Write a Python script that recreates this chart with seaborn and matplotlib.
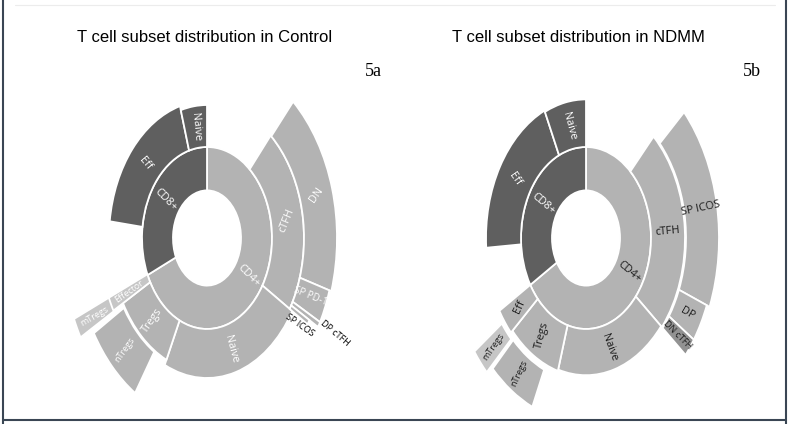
import numpy as np
import matplotlib.pyplot as plt
from matplotlib.lines import Line2D
import seaborn as sns

sns.set_theme(style="white")
plt.rcParams['font.family'] = ['Open Sans', 'DejaVu Sans']

# ---- data ----
# angular shares in degrees, clockwise from 12 o'clock; "" marks an empty gap
# radii are the inner/outer reach of each segment (hole = 34, first ring ends at 65)

# Control (5a)
ctl_r1_lab = ["CD4+", "CD8+"]
ctl_r1_deg = [246, 114]

ctl_r2_lab = ["", "cTFH", "Naive", "Tregs", "Effector", "", "Eff", "Naive"]
ctl_r2_deg = [41, 80.5, 83.5, 36, 5.5, 30.5, 67, 16]
ctl_r2_out = [0, 97, 100, 96, 108, 0, 98, 95]

ctl_r3_lab = ["", "DN", "SP PD-1", "DP cTFH", "SP ICOS", "", "nTregs", "", "mTregs", ""]
ctl_r3_deg = [41.5, 65.5, 11, 1.8, 1.7, 91.5, 26, 1.7, 5.8, 113.5]
ctl_r3_in = [0, 97, 97, 97, 97, 0, 97, 0, 107, 0]
ctl_r3_out = [0, 130, 128, 128, 118, 0, 132, 0, 145, 0]

# NDMM (5b)
ndm_r1_lab = ["CD4+", "CD8+"]
ndm_r1_deg = [239, 121]

ndm_r2_lab = ["", "cTFH", "Naive", "Tregs", "Eff", "", "Eff", "Naive"]
ndm_r2_deg = [43, 87, 66.5, 31.5, 11, 27, 69.5, 24.5]
ndm_r2_out = [0, 99, 98, 99, 101, 0, 100, 99]

ndm_r3_lab = ["", "SP ICOS", "DP", "DN cTFH", "", "nTregs", "", "mTregs", ""]
ndm_r3_deg = [47.5, 64.2, 12.3, 6, 74, 21, 1, 8, 126]
ndm_r3_in = [0, 100, 100, 100, 0, 103, 0, 104, 0]
ndm_r3_out = [0, 133, 130, 130, 0, 132, 0, 138, 0]

HOLE, RING1 = 34, 65

# ---- styles ----
DARK, LIGHT, PALE, MID = "#5f5f5f", "#b3b3b3", "#c6c6c6", "#929292"

ctl_fill = [[LIGHT, DARK],
            [None, LIGHT, LIGHT, LIGHT, PALE, None, DARK, DARK],
            [None, LIGHT, LIGHT, LIGHT, LIGHT, None, LIGHT, None, PALE, None]]
ctl_rot = [[-45, -45],
           [0, 68, -75, 55, 35, 0, -50, -85],
           [0, 55, -22, -40, -35, 0, 55, 0, 30, 0]]
# labels moved off the segment middle
ctl_text_at = {(2, 2): (112, 112), (2, 3): (118, 145), (2, 4): (124, 112)}
ctl_dark_text = {(2, 3), (2, 4)}
ctl_size = {"DP cTFH": 6.5, "SP ICOS": 6.5, "mTregs": 6.5, "nTregs": 6.5,
            "Effector": 6.5, "SP PD-1": 7}

ndm_fill = [[LIGHT, DARK],
            [None, LIGHT, LIGHT, LIGHT, LIGHT, None, DARK, DARK],
            [None, LIGHT, LIGHT, MID, None, LIGHT, None, PALE, None]]
ndm_rot = [[-40, -40],
           [0, 5, -70, 75, 65, 0, -55, -75],
           [0, 12, -30, -45, 0, 65, 0, 55, 0]]
ndm_size = {"DN cTFH": 6.5, "mTregs": 6.5, "nTregs": 6.5}


def sunburst(ax, rings, fills, rots, on_light, text_at, dark_text, sizes):
    ax.set_theta_zero_location("N")
    ax.set_theta_direction(-1)
    for k, (labs, degs, r_in, r_out) in enumerate(rings):
        start = np.concatenate([[0], np.cumsum(degs)[:-1]])
        for i, name in enumerate(labs):
            if not name:
                continue
            mid = start[i] + degs[i] / 2
            ax.bar(np.deg2rad(mid), r_out[i] - r_in[i], width=np.deg2rad(degs[i]),
                   bottom=r_in[i], color=fills[k][i], edgecolor="white",
                   linewidth=1.3, align="center")
            b, r = text_at.get((k, i), (mid, (r_in[i] + r_out[i]) / 2))
            if (k, i) in dark_text:
                col = "black"
            else:
                col = "white" if fills[k][i] == DARK else on_light
            ax.text(np.deg2rad(b), r, name, rotation=rots[k][i], rotation_mode="anchor",
                    ha="center", va="center", color=col, fontsize=sizes.get(name, 7.8))
    ax.set_ylim(0, 150)
    ax.set_aspect("auto")
    ax.axis("off")


fig = plt.figure(figsize=(7.9, 4.24), dpi=100)

W, H = 790, 424
rmax, stretch, cy = 150, 1.4, 238


def place(cx):
    return [(cx - rmax) / W, (H - cy - rmax * stretch) / H, 2 * rmax / W, 2 * rmax * stretch / H]


ax1 = fig.add_axes(place(207), projection="polar")
sunburst(ax1,
         [(ctl_r1_lab, ctl_r1_deg, [HOLE] * 2, [RING1] * 2),
          (ctl_r2_lab, ctl_r2_deg, [RING1] * len(ctl_r2_lab), ctl_r2_out),
          (ctl_r3_lab, ctl_r3_deg, ctl_r3_in, ctl_r3_out)],
         ctl_fill, ctl_rot, "white", ctl_text_at, ctl_dark_text, ctl_size)

ax2 = fig.add_axes(place(586), projection="polar")
sunburst(ax2,
         [(ndm_r1_lab, ndm_r1_deg, [HOLE] * 2, [RING1] * 2),
          (ndm_r2_lab, ndm_r2_deg, [RING1] * len(ndm_r2_lab), ndm_r2_out),
          (ndm_r3_lab, ndm_r3_deg, ndm_r3_in, ndm_r3_out)],
         ndm_fill, ndm_rot, "#1a1a1a", {}, set(), ndm_size)

# titles and panel tags
fig.text(205 / W, 1 - 37 / H, "T cell subset distribution in Control", ha="center", va="center",
         fontsize=12, family="Liberation Sans", color="black")
fig.text(578 / W, 1 - 37 / H, "T cell subset distribution in NDMM", ha="center", va="center",
         fontsize=12, family="Liberation Sans", color="black")
fig.text(373 / W, 1 - 72 / H, "5a", ha="center", va="center", fontsize=13,
         family="Liberation Serif", color="black")
fig.text(752 / W, 1 - 72 / H, "5b", ha="center", va="center", fontsize=13,
         family="Liberation Serif", color="black")

# frame around the figure
edge = "#3a4654"
fig.add_artist(Line2D([3 / W, 3 / W], [0, 1], transform=fig.transFigure, color=edge, lw=1.5))
fig.add_artist(Line2D([786 / W, 786 / W], [0, 1], transform=fig.transFigure, color=edge, lw=1.5))
fig.add_artist(Line2D([3 / W, 786 / W], [4 / H, 4 / H], transform=fig.transFigure, color=edge, lw=1.5))
fig.add_artist(Line2D([15 / W, 775 / W], [1 - 5 / H, 1 - 5 / H], transform=fig.transFigure,
                      color="#ececec", lw=0.8))

fig.savefig("out.png", dpi=100)
